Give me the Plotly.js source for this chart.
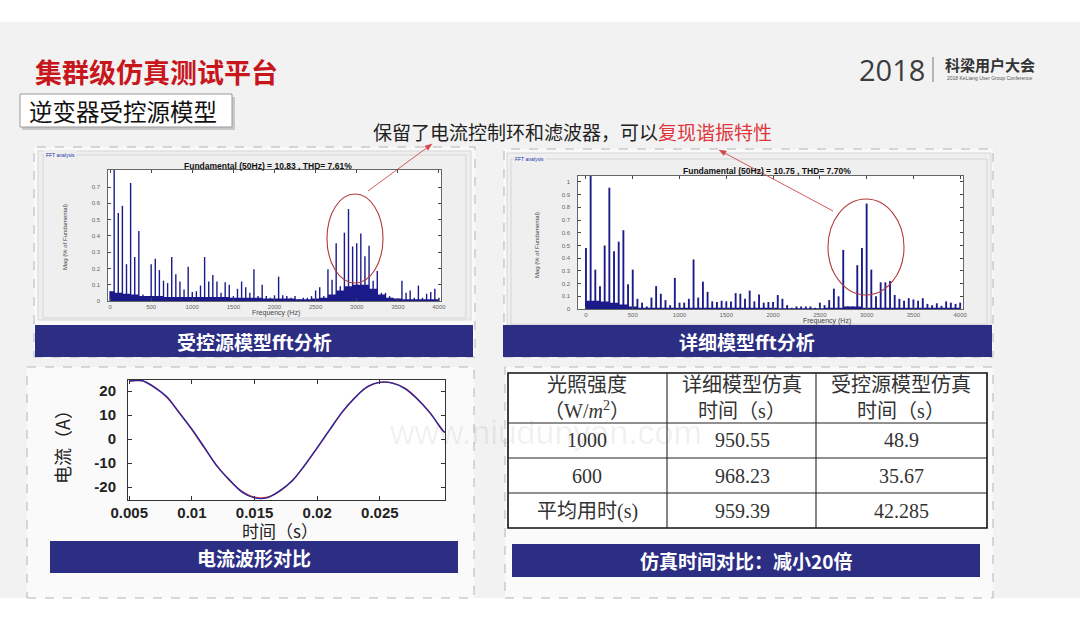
<!DOCTYPE html>
<html><head><meta charset="utf-8">
<script src="https://cdn.plot.ly/plotly-3.0.1.min.js"></script>
<style>html,body{margin:0;padding:0;background:#fff}#chart{width:1080px;height:631px}</style>
</head><body><div id="chart"></div>
<script>
// ---------------- data ----------------
const freqHz = [0,50,100,150,200,250,300,350,400,450,500,550,600,650,700,750,800,850,900,950,1000,1050,1100,1150,1200,1250,1300,1350,1400,1450,1500,1550,1600,1650,1700,1750,1800,1850,1900,1950,2000,2050,2100,2150,2200,2250,2300,2350,2400,2450,2500,2550,2600,2650,2700,2750,2800,2850,2900,2950,3000,3050,3100,3150,3200,3250,3300,3350,3400,3450,3500,3550,3600,3650,3700,3750,3800,3850,3900,3950,4000];
// controlled-source model FFT (Mag, % of fundamental)
const sourceModelMag = [0.06,0.85,0.54,0.585,0.226,0.725,0.27,0.43,0.04,0.03,0.226,0.26,0.19,0.125,0.11,0.27,0.165,0.12,0.07,0.21,0.055,0.06,0.095,0.27,0.12,0.16,0.12,0.05,0.115,0.1,0.03,0.075,0.12,0.085,0.05,0.195,0.03,0.1,0.03,0.02,0.035,0.15,0.035,0.03,0.02,0.03,0.01,0.02,0.02,0.03,0.065,0.085,0.03,0.195,0.13,0.355,0.09,0.42,0.565,0.335,0.355,0.415,0.275,0.34,0.125,0.185,0.05,0.05,0.03,0.01,0.005,0.125,0.05,0.065,0.02,0.095,0.02,0.045,0.055,0.075,0.02];
// detailed model FFT
const detailedModelMag = [0.48,1.1,0.31,0.18,0.5,0.955,0.455,0.53,0.62,0.195,0.31,0.08,0.05,0.02,0.09,0.18,0.12,0.07,0.03,0.245,0.05,0.05,0.08,0.39,0.09,0.215,0.135,0.06,0.055,0.065,0.06,0.06,0.125,0.12,0.08,0.145,0.06,0.115,0.05,0.055,0.055,0.11,0.08,0.03,0.01,0.02,0.02,0.02,0.02,0.01,0.05,0.03,0.07,0.16,0.1,0.465,0.02,0.02,0.345,0.48,0.83,0.31,0.1,0.21,0.21,0.22,0.11,0.08,0.065,0.085,0.075,0.065,0.085,0.04,0.03,0.045,0.025,0.06,0.05,0.04,0.05];
// low-level (inter-harmonic) spectrum floor
const floorFreqHz = [0,100,200,300,400,500,600,700,800,900,1000,1100,1200,1300,1400,1500,1600,1700,1800,1900,2000,2100,2200,2300,2400,2500,2600,2700,2800,2900,3000,3100,3200,3300,3400,3500,3600,3700,3800,3900,4000];
const sourceModelFloor = [0.06,0.05,0.045,0.04,0.03,0.03,0.03,0.025,0.025,0.025,0.025,0.025,0.025,0.025,0.025,0.02,0.02,0.02,0.02,0.015,0.015,0.015,0.015,0.01,0.01,0.015,0.02,0.04,0.065,0.09,0.1,0.1,0.075,0.04,0.02,0.015,0.01,0.01,0.01,0.01,0.01];
const detailedModelFloor = [0.065,0.065,0.06,0.05,0.035,0.02,0.01,0.01,0.01,0.01,0.01,0.01,0.01,0.01,0.01,0.01,0.01,0.01,0.01,0.01,0.01,0.005,0.005,0.005,0.005,0.005,0.01,0.01,0.02,0.02,0.01,0.01,0.01,0.01,0.01,0.01,0.01,0.01,0.01,0.01,0.01];
const fftXTicks = [0,500,1000,1500,2000,2500,3000,3500,4000];
const leftYTicks = [0,0.1,0.2,0.3,0.4,0.5,0.6,0.7];
const rightYTicks = [0,0.1,0.2,0.3,0.4,0.5,0.6,0.7,0.8,0.9,1];
const leftFftTitle = 'Fundamental (50Hz) = 10.83 , THD= 7.61%';
const rightFftTitle = 'Fundamental (50Hz) = 10.75 , THD= 7.70%';

// current waveform comparison
const timeS = [0.005,0.006,0.007,0.008,0.009,0.010,0.011,0.012,0.013,0.014,0.015,0.016,0.017,0.018,0.019,0.020,0.021,0.022,0.023,0.024,0.025,0.026,0.027,0.028,0.029,0.030,0.0302];
const detailedCurrentA = [24.2,24.2,21.8,17.3,11.1,3.8,-3.8,-11.1,-17.3,-21.8,-24.2,-24.2,-21.8,-17.3,-11.1,-3.8,3.8,11.1,17.3,21.6,23.7,23.4,21.2,16.8,10.8,3.9,2.6];
const sourceCurrentA = [24.0,24.4,21.5,17.6,10.8,4.1,-3.5,-11.3,-17.0,-22.1,-24.5,-24.5,-21.6,-17.5,-10.9,-3.6,3.9,11.3,17.1,21.8,23.6,23.3,21.0,16.6,11.0,3.6,2.8];
const timeTicks = [0.005,0.01,0.015,0.02,0.025];
const currentTicks = [-20,-10,0,10,20];

// simulation-time table
const tableHeader = ['光照强度<br>（W/<i>m</i><sup>2</sup>）','详细模型仿真<br>时间（s）','受控源模型仿真<br>时间（s）'];
const irradianceLabels = ['1000','600','平均用时(s)'];
const detailedSimTime = [950.55,968.23,959.39];
const sourceSimTime = [48.9,35.67,42.285];

const captionBars = ['受控源模型fft分析','详细模型fft分析','电流波形对比','仿真时间对比：减小20倍'];

// ---------------- helpers ----------------
const W = 1080, H = 631;
const X = p => p / W, Y = p => 1 - p / H;
const CJK = '"Noto Sans CJK SC", "Noto Sans", sans-serif';
const SERIF = '"Liberation Serif", "DejaVu Serif", "Noto Sans CJK SC", serif';
const NAVY = '#2c2e84';
const BAR = '#1a1a8a';

const shapes = [];
const rect = (x0,y0,x1,y1,fill,line,lw,dash) => shapes.push({type:'rect',xref:'paper',yref:'paper',x0:X(x0),x1:X(x1),y0:Y(y1),y1:Y(y0),fillcolor:fill||'rgba(0,0,0,0)',line:{color:line||'rgba(0,0,0,0)',width:lw===undefined?1:lw,dash:dash||'solid'},layer:'below'});
const lineS = (x0,y0,x1,y1,color,w,layer) => shapes.push({type:'line',xref:'paper',yref:'paper',x0:X(x0),x1:X(x1),y0:Y(y0),y1:Y(y1),line:{color:color,width:w},layer:layer||'above'});
const ellipse = (x0,y0,x1,y1,color) => shapes.push({type:'circle',xref:'paper',yref:'paper',x0:X(x0),x1:X(x1),y0:Y(y1),y1:Y(y0),line:{color:color,width:1.1},layer:'above'});
const arrow = (x0,y0,x1,y1,color) => {
  const dx = x1-x0, dy = y1-y0, L = Math.hypot(dx,dy), ux = dx/L, uy = dy/L;
  const hl = 7, hw = 2.6;
  const bx = x1-ux*hl, by = y1-uy*hl;
  lineS(x0,y0,bx,by,color,0.9);
  const p = [[x1,y1],[bx-uy*hw,by+ux*hw],[bx+uy*hw,by-ux*hw]];
  shapes.push({type:'path',xref:'paper',yref:'paper',path:'M'+p.map(q=>X(q[0])+','+Y(q[1])).join(' L')+' Z',fillcolor:color,line:{color:color,width:0.5},layer:'above'});
};

const annotations = [];
const txt = (x,y,text,font,opts) => annotations.push(Object.assign({xref:'paper',yref:'paper',x:X(x),y:Y(y),text:text,showarrow:false,xanchor:'center',yanchor:'middle',font:font},opts||{}));

// ---------------- background shapes ----------------
rect(0,22,1080,598,'#f2f2f2');
// panels (dashed)
rect(34,147,475,357,'rgba(255,255,255,0.55)','#b5b5b5',1,'dash');
rect(504,149,993,357,'rgba(255,255,255,0.55)','#b5b5b5',1,'dash');
rect(27,367,474,598,'rgba(255,255,255,0.6)','#b5b5b5',1,'dash');
rect(505,367,993,598,'rgba(255,255,255,0.6)','#b5b5b5',1,'dash');
// FFT figure windows
rect(38,151,471,320,'#efefef','#d6d6d6',1);
rect(43,155,466,318,null,'#cfcfcf',0.8);
rect(507,153,991,325,'#efefef','#d6d6d6',1);
rect(511,159,987,324,null,'#cfcfcf',0.8);
// plot areas
rect(108,170,441,301,'#ffffff');
rect(578,176,963,309,'#ffffff');
rect(128,380,445,500,'#ffffff');
// subtitle box with shadow
rect(22,97,235,130,'#c9c9c9',null,0);
rect(20,94,232,127,'#ffffff','#9a9a9a',1);
// navy caption bars
rect(35,325,473,357,NAVY,null,0);
rect(503,325,992,357,NAVY,null,0);
rect(50,541,458,573,NAVY,null,0);
rect(512,544,980,577,NAVY,null,0);
// table
rect(508,373,987,528,'#ffffff','#111111',1.6);
[423,458,493].forEach(y => lineS(508,y,987,y,'#222',1.1,'below'));
[667,816].forEach(x => lineS(x,373,x,528,'#222',1.1,'below'));
// logo separator
lineS(933,57,933,82,'#777',1);
// resonance ellipses
ellipse(327,194,383,283,'#b23a3a');
ellipse(828,199,904,295,'#b23a3a');
// pointer arrows
arrow(368,191,432,144,'#d04848');
arrow(833,211,719,150,'#d04848');

// ---------------- texts ----------------
txt(33,72,'<b>集群级仿真测试平台</b>',{family:CJK,size:27,color:'#c8161d'},{xanchor:'left'});
txt(27,111,'逆变器受控源模型',{family:CJK,size:23.5,color:'#111'},{xanchor:'left'});
txt(892,69,'2018',{family:'"Open Sans", "Liberation Sans", sans-serif',size:29,color:'#3c3c3c'});
txt(990,64,'<b>科梁用户大会</b>',{family:CJK,size:15,color:'#333'});
txt(990,78,'2018 KeLiang User Group Conference',{family:'"Liberation Sans", sans-serif',size:5,color:'#555'});
txt(572,131,'保留了电流控制环和滤波器，可以<span style="color:#e0363c">复现谐振特性</span>',{family:CJK,size:19,color:'#222'});

// FFT labels
txt(44,155,'FFT analysis',{family:'"Liberation Sans", sans-serif',size:5,color:'#2233aa'},{xanchor:'left',bgcolor:'#efefef'});
txt(513,159,'FFT analysis',{family:'"Liberation Sans", sans-serif',size:5,color:'#2233aa'},{xanchor:'left',bgcolor:'#efefef'});
txt(268,166,'<b>'+leftFftTitle+'</b>',{family:'"Liberation Sans", sans-serif',size:8.5,color:'#111'});
txt(767,171,'<b>'+rightFftTitle+'</b>',{family:'"Liberation Sans", sans-serif',size:8.5,color:'#111'});
txt(276,313,'Frequency (Hz)',{family:'"Liberation Sans", sans-serif',size:7,color:'#444'});
txt(827,321,'Frequency (Hz)',{family:'"Liberation Sans", sans-serif',size:7,color:'#444'});
txt(65,237,'Mag (% of Fundamental)',{family:'"Liberation Sans Narrow", "Liberation Sans", sans-serif',size:6,color:'#444'},{textangle:-90});
txt(537,245,'Mag (% of Fundamental)',{family:'"Liberation Sans Narrow", "Liberation Sans", sans-serif',size:6,color:'#444'},{textangle:-90});

// line chart titles
txt(62,443,'电流（A）',{family:CJK,size:18,color:'#222'},{textangle:-90});
txt(280,530,'时间（s）',{family:CJK,size:17,color:'#222'});

// caption bar texts
const barCenters = [[254,341],[747,341],[254,557],[746,560]];
captionBars.forEach((t,i) => txt(barCenters[i][0],barCenters[i][1],'<b>'+t+'</b>',{family:CJK,size:19,color:'#ffffff'}));

// table texts
const colCenters = [587,742,901];
tableHeader.forEach((h,i) => txt(colCenters[i],398,h,{family:SERIF,size:20,color:'#333'}));
const rowCenters = [440,476,511];
irradianceLabels.forEach((lab,r) => {
  const row = [lab, String(detailedSimTime[r]), String(sourceSimTime[r])];
  row.forEach((v,c) => txt(colCenters[c],rowCenters[r],v,{family:SERIF,size:20,color:'#333'}));
});

// watermark
txt(545,432,'www.niudunyan.com',{family:'"Liberation Sans", sans-serif',size:34,color:'rgba(0,0,0,0.06)'});

// ---------------- traces ----------------
const traces = [
  {type:'scatter',x:floorFreqHz,y:sourceModelFloor,mode:'lines',line:{shape:'hvh',width:0,color:BAR},fill:'tozeroy',fillcolor:BAR,xaxis:'x',yaxis:'y',hoverinfo:'skip'},
  {type:'bar',x:freqHz,y:sourceModelMag,width:17,marker:{color:BAR,line:{width:0}},xaxis:'x',yaxis:'y'},
  {type:'scatter',x:floorFreqHz,y:detailedModelFloor,mode:'lines',line:{shape:'hvh',width:0,color:BAR},fill:'tozeroy',fillcolor:BAR,xaxis:'x2',yaxis:'y2',hoverinfo:'skip'},
  {type:'bar',x:freqHz,y:detailedModelMag,width:20,marker:{color:BAR,line:{width:0}},xaxis:'x2',yaxis:'y2'},
  {type:'scatter',x:timeS,y:detailedCurrentA,mode:'lines',line:{color:'#e8403a',width:1.3,shape:'spline'},xaxis:'x3',yaxis:'y3'},
  {type:'scatter',x:timeS,y:sourceCurrentA,mode:'lines',line:{color:'#2328a0',width:1.4,shape:'spline'},xaxis:'x3',yaxis:'y3'}
];

const fftAxis = {showgrid:false,zeroline:false,showline:true,mirror:'ticks',linecolor:'#444',linewidth:0.8,ticks:'inside',ticklen:3,tickcolor:'#444',tickfont:{family:'"Liberation Sans", sans-serif',size:6,color:'#666'},fixedrange:true};
const lineAxis = {showgrid:false,zeroline:false,showline:true,mirror:'ticks',linecolor:'#333',linewidth:1,ticks:'inside',ticklen:4,tickcolor:'#333',tickfont:{family:'"Liberation Sans", sans-serif',size:15,color:'#222',weight:'bold'},fixedrange:true};

const layout = {
  width:W,height:H,margin:{l:0,r:0,t:0,b:0},
  paper_bgcolor:'#ffffff',plot_bgcolor:'rgba(0,0,0,0)',showlegend:false,
  xaxis:Object.assign({},fftAxis,{domain:[X(108),X(441)],range:[-25,4025],anchor:'y',tickvals:fftXTicks,ticktext:fftXTicks.map(String)}),
  yaxis:Object.assign({},fftAxis,{domain:[Y(301),Y(170)],range:[0,0.805],anchor:'x',tickvals:leftYTicks,ticktext:leftYTicks.map(String),ticklabelstandoff:6}),
  xaxis2:Object.assign({},fftAxis,{domain:[X(578),X(963)],range:[-85,4030],anchor:'y2',tickvals:fftXTicks,ticktext:fftXTicks.map(String)}),
  yaxis2:Object.assign({},fftAxis,{domain:[Y(309),Y(176)],range:[0,1.047],anchor:'x2',tickvals:rightYTicks,ticktext:rightYTicks.map(String),ticklabelstandoff:6}),
  xaxis3:Object.assign({},lineAxis,{domain:[X(128),X(445)],range:[0.0049,0.0302],anchor:'y3',tickvals:timeTicks,ticktext:timeTicks.map(String),ticklabelstandoff:-1}),
  yaxis3:Object.assign({},lineAxis,{domain:[Y(500),Y(380)],range:[-25.4,24.6],anchor:'x3',tickvals:currentTicks,ticktext:currentTicks.map(String),ticklabelstandoff:8}),
  shapes:shapes,
  annotations:annotations
};

Plotly.newPlot('chart',traces,layout,{staticPlot:true,displayModeBar:false});
</script>
</body></html>
